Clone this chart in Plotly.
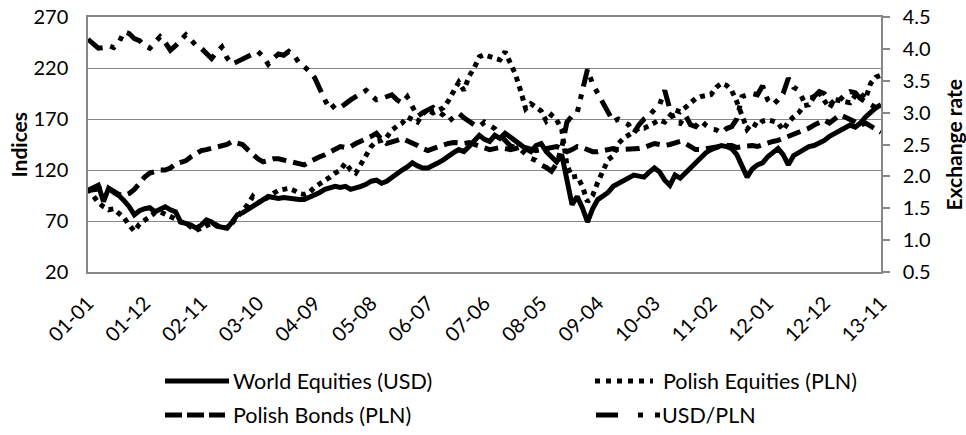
import plotly.graph_objects as go

# ---------------- data (monthly, 2001-01 .. 2013-11) ----------------
tick_labels = ["01-01", "01-12", "02-11", "03-10", "04-09", "05-08", "06-07", "07-06",
               "08-05", "09-04", "10-03", "11-02", "12-01", "12-12", "13-11"]

world_equities_usd = [
    100, 102, 105, 89, 102, 98, 95, 90, 84, 76,
    80, 82, 83, 79, 81, 84, 81, 79, 69, 68,
    66, 63, 66, 71, 69, 65, 64, 63, 69, 76,
    78, 81, 84, 87, 91, 94, 93, 92, 93, 92,
    92, 91, 91, 93, 95, 98, 101, 102, 104, 103,
    104, 101, 102, 104, 106, 109, 110, 107, 109, 113,
    116, 120, 123, 127, 124, 122, 122, 124, 127, 130,
    134, 137, 140, 138, 143, 149, 154, 150, 148, 154,
    151, 156, 152, 149, 144, 141, 138, 144, 146, 138,
    133, 128, 135, 109, 86, 94, 83, 69, 82, 91,
    95, 98, 104, 107, 110, 112, 115, 114, 113, 118,
    122, 118, 110, 105, 115, 112, 117, 122, 127, 133,
    137, 140, 142, 144, 143, 141, 135, 125, 113, 121,
    125, 127, 133, 137, 141, 135, 125, 134, 137, 140,
    143, 144, 146, 149, 153, 156, 158, 161, 164, 162,
    166, 172, 177, 181, 184]

polish_equities_pln = [
    102, 95, 88, 84, 81, 82, 78, 73, 66, 60,
    67, 71, 75, 78, 79, 77, 75, 72, 69, 68,
    64, 61, 63, 66, 68, 66, 63, 64, 68, 74,
    80, 86, 94, 88, 90, 94, 97, 100, 101, 102,
    100, 97, 96, 98, 103, 106, 109, 113, 117, 120,
    127, 120, 117, 126, 135, 143, 148, 149, 152, 159,
    163, 166, 172, 170, 167, 175, 179, 176, 178, 181,
    188, 196, 206, 198, 212, 220, 231, 233, 231, 229,
    228, 236, 226, 214, 198, 180, 185, 182, 178, 168,
    174, 169, 160, 125, 113, 114, 104, 89, 95, 108,
    118, 130, 134, 146, 151, 154, 158, 161, 161, 164,
    167, 169, 167, 173, 179, 177, 181, 186, 190, 192,
    193, 194, 201, 205, 203, 198, 187, 175, 160, 166,
    163, 168, 169, 168, 166, 159, 167, 172, 176, 183,
    184, 192, 196, 188, 181, 189, 188, 187, 186, 193,
    195, 190, 205, 211, 213]

polish_bonds_pln = [
    100, 101, 101, 102, 102, 99, 96, 95, 97, 101,
    107, 113, 117, 119, 120, 120, 122, 126, 128, 129,
    133, 136, 139, 140, 141, 142, 143, 145, 148, 147,
    145, 140, 135, 131, 128, 130, 131, 131, 130, 128,
    127, 126, 125, 128, 131, 133, 135, 138, 141, 143,
    142, 143, 146, 148, 150, 153, 156, 150, 146, 147,
    149, 151, 149, 147, 144, 141, 139, 141, 143, 145,
    146, 147, 146, 146, 147, 145, 143, 141, 140, 141,
    142, 141, 140, 141, 143, 142, 140, 139, 140, 141,
    142, 143, 141, 138, 140, 143, 142, 140, 138, 138,
    139, 141, 141, 140, 140, 140, 140, 141, 142, 144,
    146, 145, 144, 145, 146, 148, 146, 143, 140, 140,
    141, 142, 143, 143, 144, 144, 142, 143, 144, 144,
    143, 145, 147, 148, 149, 151, 153, 154, 156, 158,
    161, 164, 167, 169, 166, 170, 174, 172, 170, 167,
    164, 166, 163, 160, 157]

usd_pln = [
    4.15, 4.08, 4.01, 4.02, 4.05, 4.02, 4.10, 4.27, 4.24, 4.16,
    4.13, 4.05, 4.01, 4.10, 4.19, 4.10, 3.98, 4.05, 4.15, 4.22,
    4.14, 4.05, 4.01, 3.93, 3.85, 3.95, 4.03, 3.86, 3.76, 3.80,
    3.84, 3.88, 3.93, 3.96, 3.88, 3.76, 3.85, 3.92, 3.90, 3.96,
    3.90, 3.78, 3.72, 3.65, 3.55, 3.35, 3.20, 3.05, 3.12, 3.08,
    3.15, 3.20, 3.25, 3.30, 3.35, 3.27, 3.20, 3.22, 3.25, 3.28,
    3.20, 3.15, 3.25, 3.10, 2.94, 3.00, 3.05, 3.08, 3.02, 2.96,
    2.86, 2.92, 2.99, 2.92, 2.86, 2.81, 2.78, 2.85, 2.80, 2.75,
    2.65, 2.55, 2.48, 2.45, 2.42, 2.35, 2.28, 2.25, 2.18, 2.14,
    2.08, 2.20, 2.45, 2.85, 2.95, 3.00, 3.35, 3.68, 3.45, 3.30,
    3.15, 3.00, 2.86, 2.90, 2.85, 2.81, 2.68, 2.81, 2.90, 2.95,
    3.05, 3.12, 3.35, 3.05, 2.85, 2.83, 2.96, 2.81, 2.78, 2.88,
    2.80, 2.74, 2.73, 2.68, 2.75, 2.78, 2.90, 3.25, 3.28, 3.30,
    3.28, 3.42, 3.20, 3.12, 3.20, 3.30, 3.54, 3.40, 3.35, 3.18,
    3.22, 3.25, 3.33, 3.30, 3.20, 3.12, 3.20, 3.28, 3.33, 3.31,
    3.22, 3.18, 3.12, 3.08, 3.10]

series_names = ["World Equities (USD)", "Polish Equities (PLN)", "Polish Bonds (PLN)", "USD/PLN"]

# ---------------- figure ----------------
months = list(range(len(world_equities_usd)))
FONT = "Lato"
GRID = "#878787"
LW = 5
TICK_SIZE = 20
LEG_SIZE = 21.5

DASH_EQ = "5px,5px"
DASH_BOND = "14px,7px"
DASH_FX = "18px,8px,5px,8px,5px,8px"

fig = go.Figure()
fig.add_trace(go.Scatter(x=months, y=polish_bonds_pln, mode="lines", name=series_names[2],
                         line=dict(color="black", width=LW, dash=DASH_BOND)))
fig.add_trace(go.Scatter(x=months, y=polish_equities_pln, mode="lines", name=series_names[1],
                         line=dict(color="black", width=LW, dash=DASH_EQ)))
fig.add_trace(go.Scatter(x=months, y=usd_pln, mode="lines", name=series_names[3], yaxis="y2",
                         line=dict(color="black", width=LW, dash=DASH_FX)))
fig.add_trace(go.Scatter(x=months, y=world_equities_usd, mode="lines", name=series_names[0],
                         line=dict(color="black", width=LW)))

L, R, T, B = 88, 85, 17, 163
W, H = 966, 435
PW, PH = W - L - R, H - T - B


def px(xp):
    return (xp - L) / PW


def py(yp):
    return (H - B - yp) / PH


fig.update_layout(
    width=W, height=H,
    margin=dict(l=L, r=R, t=T, b=B, autoexpand=False),
    paper_bgcolor="white", plot_bgcolor="white",
    showlegend=False,
    font=dict(family=FONT, size=TICK_SIZE, color="black"),
    xaxis=dict(range=[0, len(months) - 1], tickmode="array", automargin=False,
               tickvals=[i * 11 for i in range(len(tick_labels))], ticktext=tick_labels,
               tickangle=-45, showgrid=False, zeroline=False,
               showline=True, linecolor=GRID, linewidth=1.5, mirror=True,
               ticks="outside", ticklen=10, tickcolor="rgba(0,0,0,0)",
               tickfont=dict(family=FONT, size=TICK_SIZE, color="black")),
    yaxis=dict(range=[20, 270], tick0=20, dtick=50, showgrid=True, gridcolor=GRID, gridwidth=1.4,
               zeroline=False, showline=True, linecolor=GRID, linewidth=1.5, automargin=False,
               ticks="outside", ticklen=14, tickcolor="rgba(0,0,0,0)",
               tickfont=dict(family=FONT, size=TICK_SIZE, color="black")),
    yaxis2=dict(range=[0.5, 4.5], tick0=0.5, dtick=0.5, tickformat=".1f", overlaying="y",
                side="right", showgrid=False, zeroline=False, showline=True, automargin=False,
                linecolor=GRID, linewidth=1.5, ticks="outside", ticklen=7,
                tickcolor=GRID, tickwidth=1.5, ticklabelstandoff=9,
                tickfont=dict(family=FONT, size=TICK_SIZE, color="black")),
)

# axis titles
fig.add_annotation(text="<b>Indices</b>", xref="paper", yref="paper", x=px(18), y=0.5,
                   xanchor="center", yanchor="middle",
                   textangle=-90, showarrow=False, font=dict(family=FONT, size=21))
fig.add_annotation(text="<b>Exchange rate</b>", xref="paper", yref="paper", x=px(953), y=0.5,
                   xanchor="center", yanchor="middle",
                   textangle=-90, showarrow=False, font=dict(family=FONT, size=21))

# legend (drawn manually to match the long sample lines)
rows = [381, 415]
legend_items = [
    (series_names[0], 165, 229, rows[0], "solid", 231),
    (series_names[1], 595, 653, rows[0], "5px,6px", 661),
    (series_names[2], 165, 225, rows[1], "17px,5px", 231),
]
for name, x0, x1, yy, dash, tx in legend_items:
    fig.add_shape(type="line", xref="paper", yref="paper", x0=px(x0), x1=px(x1),
                  y0=py(yy), y1=py(yy), line=dict(color="black", width=LW, dash=dash))
    fig.add_annotation(text=name, xref="paper", yref="paper", x=px(tx), y=py(yy),
                       xanchor="left", yanchor="middle", showarrow=False,
                       font=dict(family=FONT, size=LEG_SIZE))
# USD/PLN sample: long dash + two dots
fig.add_shape(type="line", xref="paper", yref="paper", x0=px(596), x1=px(618),
              y0=py(rows[1]), y1=py(rows[1]), line=dict(color="black", width=LW))
for dx in (638, 655):
    fig.add_shape(type="line", xref="paper", yref="paper", x0=px(dx), x1=px(dx + 5),
                  y0=py(rows[1]), y1=py(rows[1]), line=dict(color="black", width=LW))
fig.add_annotation(text=series_names[3], xref="paper", yref="paper", x=px(660), y=py(rows[1]),
                   xanchor="left", yanchor="middle", showarrow=False,
                   font=dict(family=FONT, size=LEG_SIZE))

fig.write_html("out.html", config={"displayModeBar": False},
               post_script="document.body.style.margin='0';document.body.style.padding='0';"
                           "document.body.style.overflow='hidden';")
